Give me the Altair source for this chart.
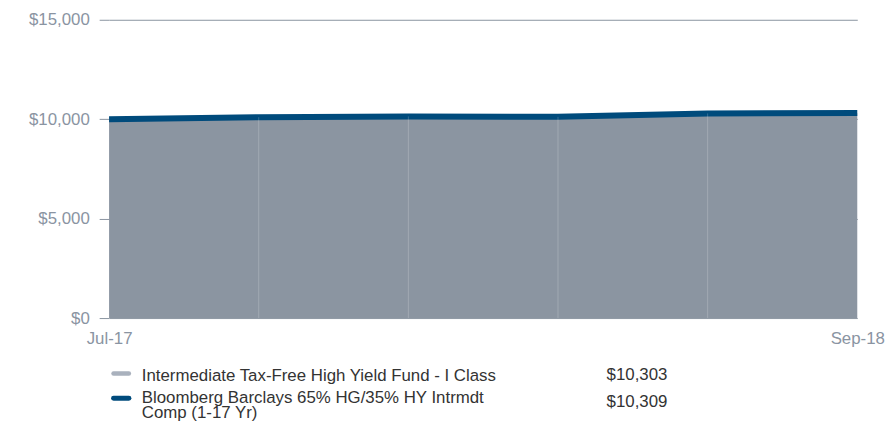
import altair as alt
import pandas as pd

dates = ["Jul-17", "Sep-17", "Dec-17", "Mar-18", "Jun-18", "Sep-18"]
fund = [10000, 10070, 10120, 10100, 10270, 10303]
index_vals = [10000, 10100, 10140, 10120, 10290, 10309]
y_ticks = [0, 5000, 10000, 15000]
legend_labels = ["Intermediate Tax-Free High Yield Fund - I Class",
                 "Bloomberg Barclays 65% HG/35% HY Intrmdt\nComp (1-17 Yr)"]
legend_values = ["$10,303", "$10,309"]

AREA = "#8b95a1"
LINE = "#004b7c"
LEG_FUND = "#a9b1bd"
AXIS_TXT = "#8a94a2"
FONT = "Liberation Sans"

df = pd.DataFrame({"date": dates, "fund": fund, "index": index_vals, "zero": [0] * len(dates)})
inner = df.iloc[1:-1]

x = alt.X("date:O", sort=dates, scale=alt.Scale(type="point", padding=0),
          axis=alt.Axis(values=[dates[0], dates[-1]], title=None, labelAngle=0,
                        ticks=False, domain=False, grid=False, labelPadding=13,
                        labelFontSize=17, labelColor=AXIS_TXT, labelFont=FONT))
y_scale = alt.Scale(domain=[0, 15000], nice=False, zero=True)

area = alt.Chart(df).mark_area(color=AREA, opacity=1).encode(
    x=x,
    y=alt.Y("fund:Q", scale=y_scale,
            axis=alt.Axis(values=y_ticks, format="$,.0f", title=None, grid=True,
                          gridColor="#8a94a0", gridWidth=1, domain=False,
                          tickSize=10, tickColor="#8a94a0", labelPadding=10,
                          labelFontSize=17, labelColor=AXIS_TXT, labelFont=FONT)),
)

line = alt.Chart(df).mark_line(color=LINE, strokeWidth=6, strokeCap="butt").encode(
    x=alt.X("date:O", sort=dates), y=alt.Y("index:Q", scale=y_scale)
)

rules = alt.Chart(inner).mark_rule(color="white", opacity=0.2, strokeWidth=1).encode(
    x=alt.X("date:O", sort=dates), y=alt.Y("index:Q", scale=y_scale), y2=alt.Y2("zero:Q")
)

leg1 = pd.DataFrame({"label": [legend_labels[0]], "value": [legend_values[0]]})
leg2 = pd.DataFrame({"label": [legend_labels[1]], "value": [legend_values[1]]})

sym1 = alt.Chart(leg1).mark_rule(strokeWidth=4.5, strokeCap="round", color=LEG_FUND).encode(
    x=alt.value(4.5), x2=alt.value(20), y=alt.value(357))
sym2 = alt.Chart(leg2).mark_rule(strokeWidth=5, strokeCap="round", color=LINE).encode(
    x=alt.value(4.5), x2=alt.value(20), y=alt.value(382))

txt_kw = dict(align="left", baseline="alphabetic", fontSize=17, font=FONT, color="#333333")
lab1 = alt.Chart(leg1).mark_text(**txt_kw).encode(
    x=alt.value(33), y=alt.value(364.7), text="label:N")
lab2 = alt.Chart(leg2).mark_text(lineBreak="\n", lineHeight=14.5, **txt_kw).encode(
    x=alt.value(33), y=alt.value(387), text="label:N")
val1 = alt.Chart(leg1).mark_text(**txt_kw).encode(
    x=alt.value(502), y=alt.value(363.7), text="value:N")
val2 = alt.Chart(leg2).mark_text(**txt_kw).encode(
    x=alt.value(502), y=alt.value(390.5), text="value:N")

chart = alt.layer(area, line, rules, sym1, sym2, lab1, lab2, val1, val2).properties(
    width=755, height=301,
    autosize=alt.AutoSizeParams(type="none"),
    padding={"left": 102, "top": 10, "right": 30, "bottom": 103},
).configure_view(stroke=None)

chart.save("out.html", embed_options={"renderer": "svg", "actions": False})
